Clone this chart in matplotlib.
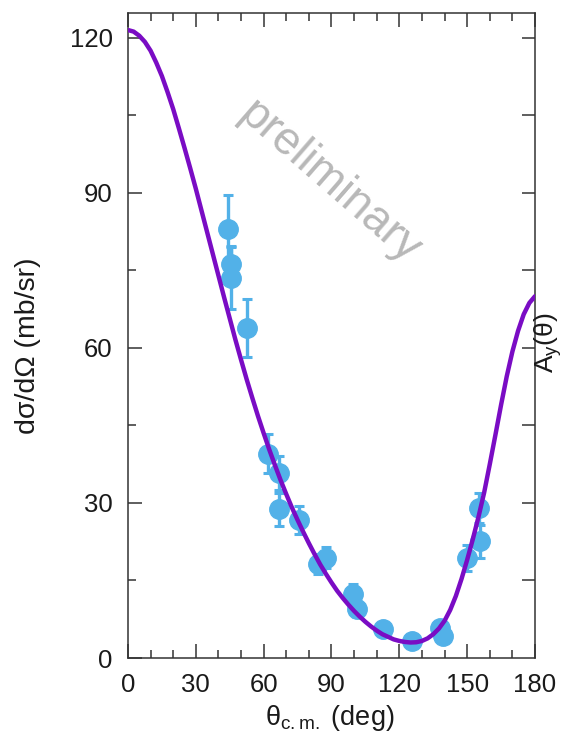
import matplotlib
matplotlib.use("Agg")
import matplotlib.pyplot as plt
from matplotlib.ticker import MultipleLocator

plt.rcParams['font.family'] = ['Liberation Sans', 'DejaVu Sans']
plt.rcParams['mathtext.fontset'] = 'custom'
plt.rcParams['mathtext.rm'] = 'Liberation Sans'
plt.rcParams['mathtext.it'] = 'Liberation Sans:italic'

# Measured differential cross section
theta_data = [44.2, 45.5, 45.5, 52.6, 62.0, 66.8, 66.8, 75.6, 84.0, 87.6,
              99.5, 101.3, 112.8, 125.6, 138.0, 139.3, 149.9, 155.7, 155.3]
xsec_data = [83.0, 76.2, 73.5, 63.9, 39.5, 35.8, 28.8, 26.7, 18.2, 19.4,
             12.4, 9.5, 5.6, 3.3, 5.8, 4.2, 19.4, 22.6, 29.0]
xsec_err = [6.6, 3.5, 6.0, 5.6, 3.8, 3.3, 3.2, 2.8, 2.0, 2.0,
            1.9, 1.6, 1.0, 0.8, 1.0, 1.0, 2.5, 3.2, 2.9]

# Calculated curve, sampled every 2.5 degrees
theta_calc = [i * 2.5 for i in range(73)]
xsec_calc = [121.5, 121.2, 120.4, 119.2, 117.5, 115.2, 112.6, 109.5, 106.2, 102.5,
             98.7, 94.8, 90.8, 86.6, 82.4, 78.2, 74.0, 69.8, 65.7, 61.6,
             57.7, 53.9, 50.3, 46.8, 43.5, 40.3, 37.3, 34.4, 31.7, 29.1,
             26.7, 24.4, 22.2, 20.1, 18.1, 16.3, 14.6, 13.0, 11.6, 10.3,
             9.1, 8.0, 7.0, 6.1, 5.3, 4.6, 4.1, 3.6, 3.3, 3.1,
             3.0, 3.05, 3.3, 3.8, 4.6, 5.7, 7.2, 9.3, 12.0, 15.3,
             19.0, 23.0, 27.3, 32.0, 37.5, 43.2, 49.0, 54.5, 59.3, 63.3,
             66.5, 68.7, 70.0]

x_ticks = [0, 30, 60, 90, 120, 150, 180]
y_ticks = [0, 30, 60, 90, 120]

fig = plt.figure(figsize=(5.67, 7.38), dpi=100)
ax = fig.add_axes([0.2257, 0.1084, 0.9436 - 0.2257, 0.9824 - 0.1084])

blue = '#52b1e8'
purple = '#7a0cc4'
text_c = '#1a1a1a'

ax.errorbar(theta_data, xsec_data, yerr=xsec_err, fmt='o', color=blue,
            ms=14, elinewidth=2.4, capsize=3.8, capthick=2.2, zorder=2)
ax.plot(theta_calc, xsec_calc, color=purple, lw=3.2, zorder=3,
        solid_capstyle='round', solid_joinstyle='round')

ax.set_xlim(0, 180)
ax.set_ylim(0, 124.8)
ax.set_xticks(x_ticks)
ax.set_yticks(y_ticks)
ax.xaxis.set_minor_locator(MultipleLocator(10))
ax.yaxis.set_minor_locator(MultipleLocator(15))

spine_c = '#333333'
for s in ax.spines.values():
    s.set_linewidth(1.1)
    s.set_color(spine_c)

ax.tick_params(which='major', direction='in', length=10, width=1.1,
               color=spine_c, labelsize=18.5, labelcolor=text_c, pad=11,
               top=True, right=False)
ax.tick_params(which='minor', direction='in', length=5.5, width=1.1,
               color=spine_c, top=True, right=False)

ax2 = ax.twinx()
ax2.set_ylim(0, 124.8)
ax2.set_yticks([15, 30, 45, 60, 75, 90, 105, 120])
ax2.set_yticklabels([])
ax2.tick_params(direction='in', length=9.5, width=1.1, color=spine_c)
for s in ax2.spines.values():
    s.set_visible(False)

fig.text(0.05, 0.532, 'dσ/dΩ (mb/sr)', rotation=90, ha='center', va='center',
         fontsize=20.5, color=text_c)
fig.text(0.582, 0.027, 'θ$_\\mathrm{c.m.}$ (deg)', ha='center', va='center',
         fontsize=19.5, color=text_c)
fig.text(0.966, 0.535, 'A$_\\mathrm{y}$(θ)', rotation=90, ha='center',
         va='center', fontsize=19, color=text_c)

ax.text(89, 92, 'preliminary', rotation=-41, ha='center', va='center',
        fontsize=33, color='#b8b8b8', zorder=1)

fig.savefig('out.png', dpi=100)
